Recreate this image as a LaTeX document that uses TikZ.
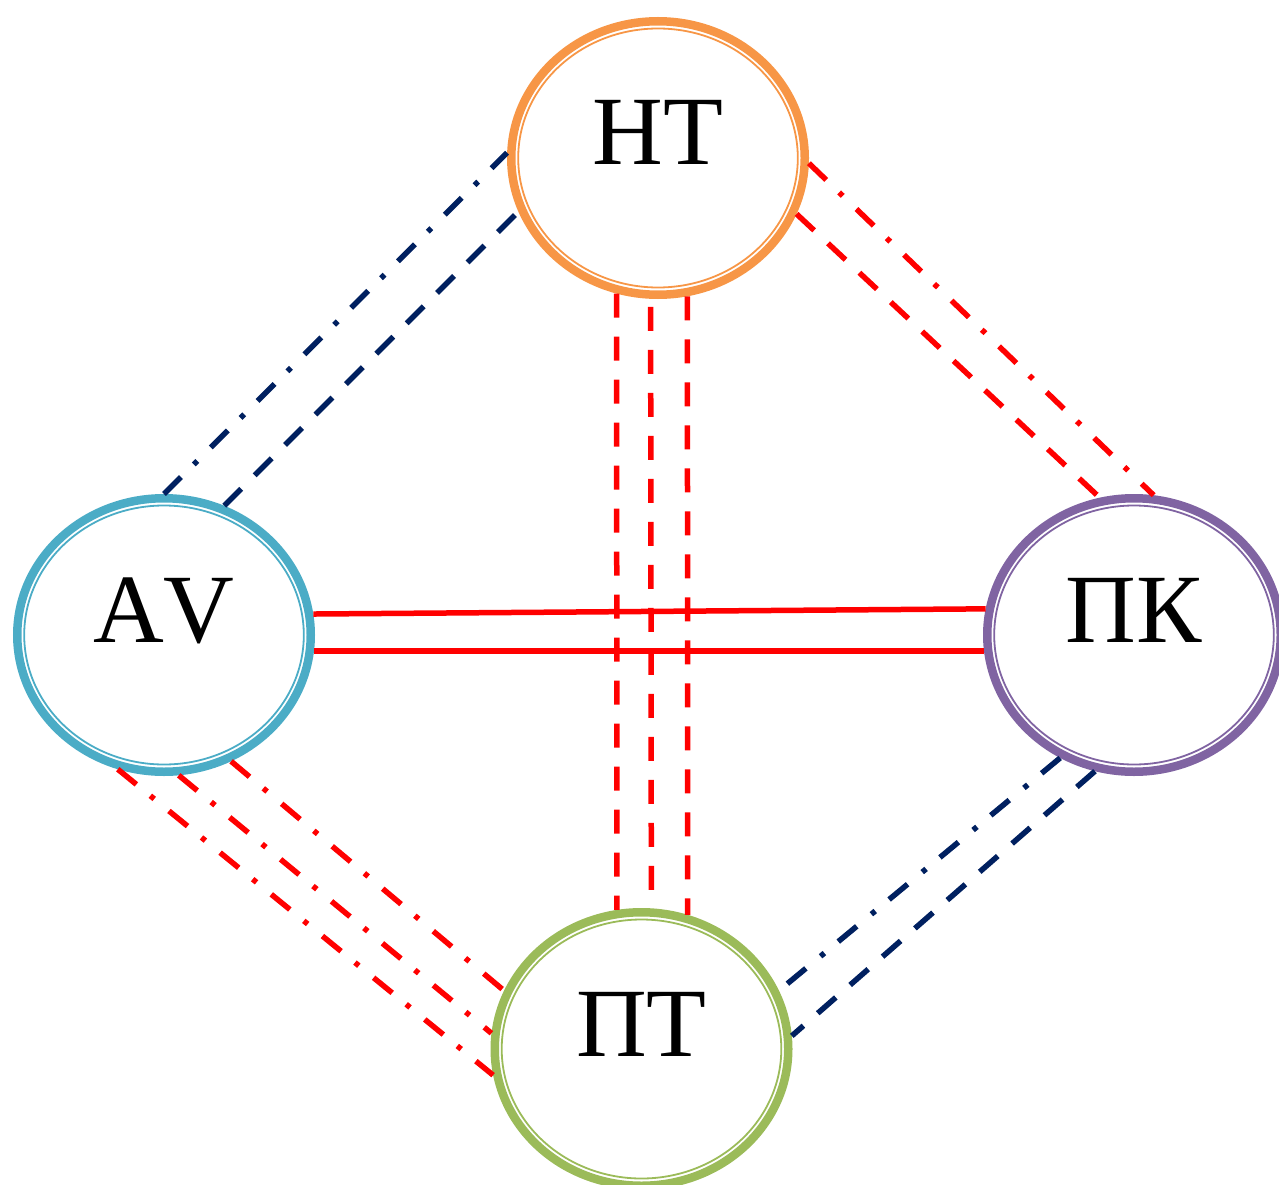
\documentclass[tikz,border=0pt]{standalone}
\usepackage{fontspec}
\setmainfont{Liberation Serif}
\newfontfamily\circlefont[Kerning=Off]{Liberation Serif}
\usetikzlibrary{shapes.geometric}

\definecolor{ringorange}{HTML}{F79646}
\definecolor{ringaqua}{HTML}{4BACC6}
\definecolor{ringpurple}{HTML}{8064A2}
\definecolor{ringgreen}{HTML}{9BBB59}
\definecolor{linknavy}{HTML}{002060}
\definecolor{linkred}{HTML}{FF0000}

\tikzset{
  ring/.style={ellipse, draw=#1, line width=8.5pt,
    minimum width=293.5pt, minimum height=273.5pt, inner sep=0pt},
  ringinner/.style={draw=#1, line width=1.8pt},
  caption/.style={font=\circlefont\fontsize{98}{100}\selectfont,
    anchor=base, inner sep=0pt},
  link/.style={line width=5.5pt, line cap=butt},
  longdash/.style={link, dash pattern=on 24pt off 19pt},
  longdashdot/.style={link, dash pattern=on 24pt off 18pt on 5pt off 19pt},
}

\begin{document}
\begin{tikzpicture}[x=1pt, y=-1pt]
\useasboundingbox (0,0) rectangle (1279,1185);
\clip (0,0) rectangle (1279,1185);

% the four double-ringed ellipses
\node[ring=ringorange] (HT) at (658,158) {};
\node[ring=ringaqua]   (AV) at (164,635) {};
\node[ring=ringpurple] (PK) at (1134,635) {};
\node[ring=ringgreen]  (PT) at (641.5,1049) {};

\draw[ringinner=ringorange] (HT.center) ellipse [x radius=139.8pt, y radius=129.5pt];
\draw[ringinner=ringaqua]   (AV.center) ellipse [x radius=139.8pt, y radius=129.5pt];
\draw[ringinner=ringpurple] (PK.center) ellipse [x radius=139.8pt, y radius=129.5pt];
\draw[ringinner=ringgreen]  (PT.center) ellipse [x radius=139.8pt, y radius=129.5pt];

% НТ -- AV
\draw[longdashdot, draw=linknavy] (AV.90.8) -- (HT.178.9);
\draw[longdash, draw=linknavy] (AV.65.1) -- (HT.201);

% НТ -- ПК
\draw[longdashdot, draw=linkred] (HT.-2.8) -- (PK.82);
\draw[longdash, draw=linkred] (HT.-22.7) -- (PK.104.8);

% НТ -- ПТ
\draw[longdash, draw=linkred] (HT.-107.23) -- (PT.100.40);
\draw[longdash, draw=linkred, dash phase=35pt] (HT.-93.25) -- (PT.86.54);
\draw[longdash, draw=linkred] (HT.-78.16) -- (PT.71.31);

% AV -- ПК
\draw[link, draw=linkred] (AV.8.78) -- (PK.170.06);
\draw[link, draw=linkred] (AV.-6.47) -- (PK.-174.68);

% AV -- ПТ
\draw[longdashdot, draw=linkred] (AV.-109.95) -- (PT.190.5);
\draw[longdashdot, draw=linkred] (AV.-84.5) -- (PT.174.5);
\draw[longdashdot, draw=linkred] (AV.-62.3) -- (PT.157.3);

% ПК -- ПТ
\draw[longdashdot, draw=linknavy] (PK.-121.5) -- (PT.23.4);
\draw[longdash, draw=linknavy] (PK.-106.3) -- (PT.5.5);

% labels
\node[caption] (HTtext) at ([yshift=-7pt]HT.center) {НТ};
\node[caption] (AVtext) at ([yshift=-7pt]AV.center) {AV};
\node[caption] (PKtext) at ([yshift=-7pt]PK.center) {ПК};
\node[caption] (PTtext) at ([yshift=-7pt]PT.center) {ПТ};
\end{tikzpicture}
\end{document}
